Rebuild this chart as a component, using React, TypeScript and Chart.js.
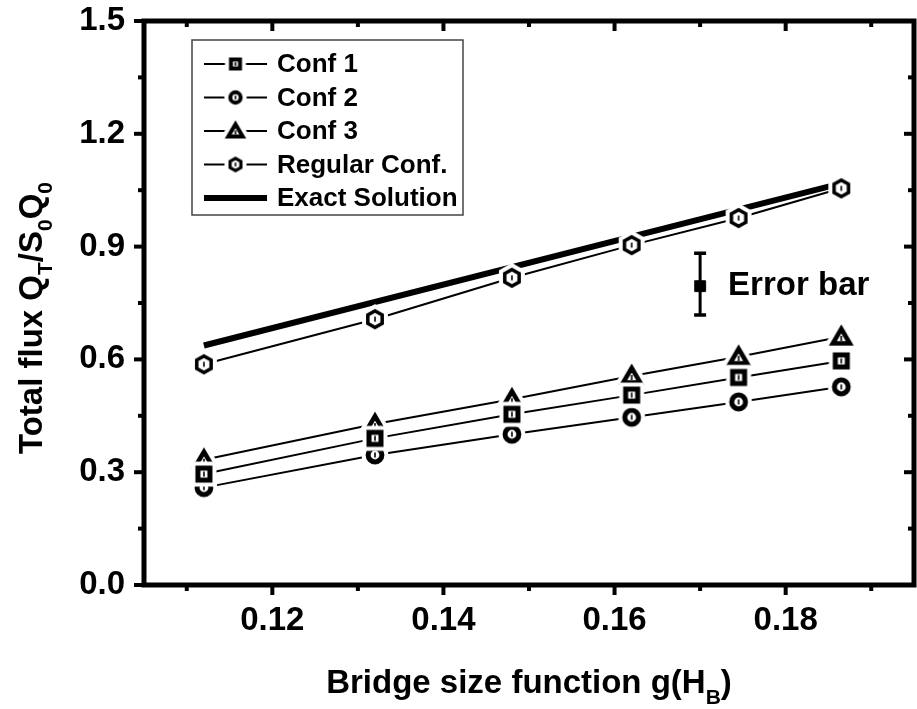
import React, { useEffect, useRef } from "react";
import { Chart, registerables } from "chart.js";

Chart.register(...registerables);

// ---------- data ----------
const bridgeSize = [0.112, 0.132, 0.148, 0.162, 0.1745, 0.1865];
const conf1Flux = [0.295, 0.39, 0.454, 0.505, 0.552, 0.596];
const conf2Flux = [0.259, 0.346, 0.401, 0.446, 0.487, 0.527];
const conf3Flux = [0.333, 0.428, 0.494, 0.556, 0.607, 0.66];
const regularFlux = [0.587, 0.707, 0.817, 0.904, 0.976, 1.055];
const exactSize = [0.112, 0.1865];
const exactFlux = [0.637, 1.068];
const errorBarSize = [0.17];
const errorBarFlux = [0.795];
const errorBarLow = [0.718];
const errorBarHigh = [0.882];
const xMajorTicks = [0.12, 0.14, 0.16, 0.18];
const xMinorTicks = [0.11, 0.13, 0.15, 0.17, 0.19];
const yMajorTicks = [0, 0.3, 0.6, 0.9, 1.2, 1.5];
const yMinorTicks = [0.15, 0.45, 0.75, 1.05, 1.35];
const seriesLabels = ["Conf 1", "Conf 2", "Conf 3", "Regular Conf.", "Exact Solution"];
const errorBarLabel = "Error bar";

const FONT = "'Liberation Sans', Arial, Helvetica, sans-serif";

type Kind = "square" | "circle" | "triangle" | "hexagon" | "filled";

function shapePath(ctx: CanvasRenderingContext2D, kind: Kind, cx: number, cy: number, s: number) {
  ctx.beginPath();
  if (kind === "square" || kind === "filled") {
    ctx.rect(cx - 6 * s, cy - 6 * s, 12 * s, 12 * s);
  } else if (kind === "circle") {
    ctx.arc(cx, cy, 6.9 * s, 0, Math.PI * 2);
  } else if (kind === "triangle") {
    ctx.moveTo(cx, cy - 8 * s);
    ctx.lineTo(cx + 8.5 * s, cy + 6.5 * s);
    ctx.lineTo(cx - 8.5 * s, cy + 6.5 * s);
  } else {
    const r = 8.3 * s;
    for (let i = 0; i < 6; i++) {
      const a = (-90 + 60 * i) * (Math.PI / 180);
      const px = cx + r * Math.cos(a);
      const py = cy + r * Math.sin(a);
      if (i === 0) ctx.moveTo(px, py);
      else ctx.lineTo(px, py);
    }
  }
  ctx.closePath();
}

function makeMarker(kind: Kind, s: number, lw: number, halo: number) {
  const size = 40;
  const c = document.createElement("canvas");
  c.width = size;
  c.height = size;
  const ctx = c.getContext("2d")!;
  const cx = size / 2;
  const cy = size / 2;
  ctx.lineJoin = "miter";
  if (halo > 0) {
    shapePath(ctx, kind, cx, cy, s);
    ctx.lineWidth = lw + 2 * halo;
    ctx.strokeStyle = "#fff";
    ctx.stroke();
  }
  shapePath(ctx, kind, cx, cy, s);
  ctx.fillStyle = kind === "filled" ? "#000" : "#fff";
  ctx.fill();
  ctx.lineWidth = lw;
  ctx.strokeStyle = "#000";
  ctx.stroke();
  if (kind !== "filled") {
    ctx.fillStyle = "#000";
    ctx.fillRect(cx - 0.8, cy - 2.5 * s + (kind === "triangle" ? 1.5 : 0), 1.6, 5 * s);
  }
  return c;
}

const pts = (xs: number[], ys: number[]) => xs.map((x, i) => ({ x, y: ys[i] }));

function drawRich(
  ctx: CanvasRenderingContext2D,
  parts: { t: string; sub?: boolean }[],
  size: number,
  subSize: number,
  subOffset: number,
  x0: number
) {
  let x = x0;
  for (const p of parts) {
    ctx.font = `bold ${p.sub ? subSize : size}px ${FONT}`;
    ctx.fillText(p.t, x, p.sub ? subOffset : 0);
    x += ctx.measureText(p.t).width;
  }
  return x - x0;
}
function measureRich(ctx: CanvasRenderingContext2D, parts: { t: string; sub?: boolean }[], size: number, subSize: number) {
  let w = 0;
  for (const p of parts) {
    ctx.font = `bold ${p.sub ? subSize : size}px ${FONT}`;
    w += ctx.measureText(p.t).width;
  }
  return w;
}

const zeroPadding = (s: any) => {
  s.paddingTop = 0;
  s.paddingBottom = 0;
  s.paddingLeft = 0;
  s.paddingRight = 0;
};

export default function App() {
  const ref = useRef<HTMLCanvasElement | null>(null);

  useEffect(() => {
    const canvas = ref.current;
    if (!canvas) return;

    const mk = {
      square: makeMarker("square", 1, 5, 4),
      circle: makeMarker("circle", 1, 5, 4),
      triangle: makeMarker("triangle", 1, 4.5, 4),
      hexagon: makeMarker("hexagon", 1, 3.5, 4),
      filled: makeMarker("filled", 0.9, 1, 0),
    };
    const lg = {
      square: makeMarker("square", 0.75, 4, 4),
      circle: makeMarker("circle", 0.75, 4, 4),
      triangle: makeMarker("triangle", 0.85, 4, 4),
      hexagon: makeMarker("hexagon", 0.75, 3.2, 4),
    };

    const overlay = {
      id: "overlay",
      afterDatasetsDraw(chart: any) {
        const ctx: CanvasRenderingContext2D = chart.ctx;
        const xs = chart.scales.x;
        const ys = chart.scales.y;
        // error bar
        ctx.save();
        ctx.strokeStyle = "#000";
        ctx.fillStyle = "#000";
        for (let i = 0; i < errorBarSize.length; i++) {
          const px = xs.getPixelForValue(errorBarSize[i]);
          const pl = ys.getPixelForValue(errorBarLow[i]);
          const ph = ys.getPixelForValue(errorBarHigh[i]);
          const pc = ys.getPixelForValue(errorBarFlux[i]);
          ctx.lineWidth = 3;
          ctx.beginPath();
          ctx.moveTo(px, pl);
          ctx.lineTo(px, ph);
          ctx.stroke();
          ctx.lineWidth = 3.5;
          ctx.beginPath();
          ctx.moveTo(px - 6, ph);
          ctx.lineTo(px + 6, ph);
          ctx.moveTo(px - 6, pl);
          ctx.lineTo(px + 6, pl);
          ctx.stroke();
          ctx.font = `bold 33px ${FONT}`;
          ctx.textAlign = "left";
          ctx.textBaseline = "alphabetic";
          ctx.fillText(errorBarLabel, px + 28, pc + 9);
        }
        ctx.restore();
      },
      afterDraw(chart: any) {
        const ctx: CanvasRenderingContext2D = chart.ctx;
        const a = chart.chartArea;
        const xs = chart.scales.x;
        const ys = chart.scales.y;
        ctx.save();
        ctx.strokeStyle = "#000";
        ctx.fillStyle = "#000";
        // frame
        ctx.lineWidth = 5;
        ctx.lineJoin = "miter";
        ctx.strokeRect(a.left, a.top, a.right - a.left, a.bottom - a.top);
        // ticks
        const tick = (x1: number, y1: number, x2: number, y2: number, w: number) => {
          ctx.lineWidth = w;
          ctx.beginPath();
          ctx.moveTo(x1, y1);
          ctx.lineTo(x2, y2);
          ctx.stroke();
        };
        for (const v of xMajorTicks) {
          const p = xs.getPixelForValue(v);
          tick(p, a.bottom, p, a.bottom + 10, 4);
          tick(p, a.top, p, a.top + 10, 4);
        }
        for (const v of xMinorTicks) {
          const p = xs.getPixelForValue(v);
          tick(p, a.bottom, p, a.bottom + 6, 4);
          tick(p, a.top, p, a.top + 6, 4);
        }
        for (const v of yMajorTicks) {
          const p = ys.getPixelForValue(v);
          tick(a.left, p, a.left - 10, p, 4);
          tick(a.right, p, a.right - 10, p, 4);
        }
        for (const v of yMinorTicks) {
          const p = ys.getPixelForValue(v);
          tick(a.left, p, a.left - 6, p, 4);
          tick(a.right, p, a.right - 6, p, 4);
        }

        // legend
        const lx = 192, ly = 40, lw = 271, lh = 175;
        ctx.fillStyle = "#fff";
        ctx.fillRect(lx, ly, lw, lh);
        ctx.strokeStyle = "#444";
        ctx.lineWidth = 1.5;
        ctx.strokeRect(lx, ly, lw, lh);
        ctx.strokeStyle = "#000";
        ctx.fillStyle = "#000";
        const rows = [64, 97.5, 131, 164.5, 198];
        const icons = [lg.square, lg.circle, lg.triangle, lg.hexagon, null];
        for (let i = 0; i < seriesLabels.length; i++) {
          const y = rows[i];
          ctx.lineWidth = i === 4 ? 6 : 2;
          ctx.beginPath();
          ctx.moveTo(204, y);
          ctx.lineTo(267, y);
          ctx.stroke();
          const ic = icons[i];
          if (ic) ctx.drawImage(ic, 235.5 - ic.width / 2, y - ic.height / 2);
          ctx.font = `bold 26px ${FONT}`;
          ctx.textAlign = "left";
          ctx.textBaseline = "middle";
          ctx.fillText(seriesLabels[i], 277, y + 1);
        }

        // x title
        const xParts = [{ t: "Bridge size function g(H" }, { t: "B", sub: true }, { t: ")" }];
        ctx.textAlign = "left";
        ctx.textBaseline = "alphabetic";
        const xw = measureRich(ctx, xParts, 33, 21);
        const xc = (a.left + a.right) / 2;
        ctx.save();
        ctx.translate(xc - xw / 2, 693);
        drawRich(ctx, xParts, 33, 21, 11, 0);
        ctx.restore();

        // y title
        const yParts = [
          { t: "Total flux Q" },
          { t: "T", sub: true },
          { t: "/S" },
          { t: "0", sub: true },
          { t: "Q" },
          { t: "0", sub: true },
        ];
        const yw = measureRich(ctx, yParts, 33, 21);
        ctx.save();
        ctx.translate(42, 318 + yw / 2);
        ctx.rotate(-Math.PI / 2);
        drawRich(ctx, yParts, 33, 21, 10, 0);
        ctx.restore();

        ctx.restore();
      },
    };

    const tickFont = { family: FONT, weight: "bold" as const, size: 33 };

    const chart = new Chart(canvas, {
      type: "line",
      data: {
        datasets: [
          {
            label: seriesLabels[0],
            data: pts(bridgeSize, conf1Flux),
            borderColor: "#000",
            borderWidth: 2,
            pointStyle: mk.square as any,
            pointRadius: 9,
            tension: 0,
            fill: false,
          },
          {
            label: seriesLabels[1],
            data: pts(bridgeSize, conf2Flux),
            borderColor: "#000",
            borderWidth: 2,
            pointStyle: mk.circle as any,
            pointRadius: 9,
            tension: 0,
            fill: false,
          },
          {
            label: seriesLabels[2],
            data: pts(bridgeSize, conf3Flux),
            borderColor: "#000",
            borderWidth: 2,
            pointStyle: mk.triangle as any,
            pointRadius: 9,
            tension: 0,
            fill: false,
          },
          {
            label: seriesLabels[3],
            data: pts(bridgeSize, regularFlux),
            borderColor: "#000",
            borderWidth: 2,
            pointStyle: mk.hexagon as any,
            pointRadius: 9,
            tension: 0,
            fill: false,
          },
          {
            label: seriesLabels[4],
            data: pts(exactSize, exactFlux),
            borderColor: "#000",
            borderWidth: 6,
            pointRadius: 0,
            tension: 0,
            fill: false,
          },
          {
            label: errorBarLabel,
            data: pts(errorBarSize, errorBarFlux),
            showLine: false,
            borderColor: "#000",
            pointStyle: mk.filled as any,
            pointRadius: 6,
          },
        ],
      },
      options: {
        responsive: false,
        animation: false,
        events: [],
        layout: { autoPadding: false, padding: { top: 21, right: 3, left: 0, bottom: 0 } },
        plugins: {
          legend: { display: false },
          tooltip: { enabled: false },
        },
        scales: {
          x: {
            type: "linear",
            min: 0.105,
            max: 0.195,
            grid: { display: false, drawTicks: false },
            border: { display: false },
            afterBuildTicks: (s: any) => {
              s.ticks = xMajorTicks.map((v) => ({ value: v }));
            },
            afterFit: (s: any) => {
              s.height = 124;
              zeroPadding(s);
            },
            ticks: {
              padding: 16,
              color: "#000",
              font: tickFont,
              maxRotation: 0,
              autoSkip: false,
              callback: (v: any) => Number(v).toFixed(2),
            },
          },
          y: {
            type: "linear",
            min: 0,
            max: 1.5,
            grid: { display: false, drawTicks: false },
            border: { display: false },
            afterBuildTicks: (s: any) => {
              s.ticks = yMajorTicks.map((v) => ({ value: v }));
            },
            afterFit: (s: any) => {
              s.width = 144;
              zeroPadding(s);
            },
            ticks: {
              padding: 19,
              color: "#000",
              font: tickFont,
              autoSkip: false,
              callback: (v: any) => Number(v).toFixed(1),
            },
          },
        },
      },
      plugins: [overlay],
    });

    return () => chart.destroy();
  }, []);

  return (
    <div style={{ position: "absolute", left: 0, top: 0, width: 917, height: 709, background: "#fff" }}>
      <canvas ref={ref} width={917} height={709} style={{ display: "block" }} />
    </div>
  );
}
